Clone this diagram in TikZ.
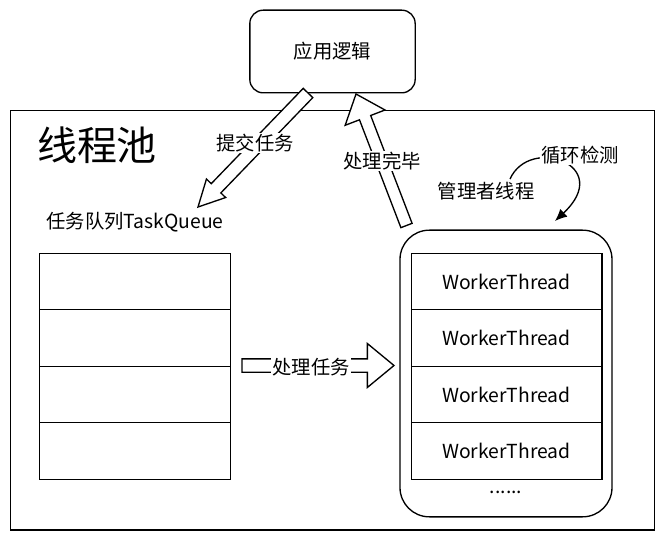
\documentclass[tikz,border=0pt]{standalone}
\usepackage{fontspec}
\setmainfont{Noto Sans CJK SC}
\usetikzlibrary{arrows.meta,positioning,calc}

\tikzset{
  box/.style={draw=black,line width=1pt,minimum width=#1},
  rowbox/.style={draw=black,line width=1pt,minimum width=143pt,minimum height=42.4pt,inner sep=0pt,outer sep=0pt,font=\fontsize{14.5}{16}\selectfont},
  txt/.style={inner sep=1pt,fill=white,font=\fontsize{14.5}{16}\selectfont},
  arrowbody/.style={draw=black,fill=white,line width=1pt,line join=miter},
}

% block arrow: tail, tip, half shaft, half head, head length
\newcommand{\blockarrow}[5]{%
  \coordinate (#2base) at ($(#2)!#5!(#1)$);
  \draw[arrowbody] ($(#1)!#3!90:(#2)$) -- ($(#2base)!#3!90:(#2)$) -- ($(#2base)!#4!90:(#2)$) -- (#2)
    -- ($(#2base)!#4!-90:(#2)$) -- ($(#2base)!#3!-90:(#2)$) -- ($(#1)!#3!-90:(#2)$) -- cycle;
}

\begin{document}
\begin{tikzpicture}[x=0.75pt,y=-0.75pt]
  \useasboundingbox (0,0) rectangle (669,542);

  % outer frame and application box
  \node[box=483pt,minimum height=314.5pt] (pool) at (332.25,320.25) {};
  \node[box=124pt,minimum height=62pt,rounded corners=10pt,font=\fontsize{14.5}{16}\selectfont] (app) at (332.5,51.5) {应用逻辑};
  \node[inner sep=0pt,font=\fontsize{30}{32}\selectfont] (title) at (97,145) {线程池};

  % task queue
  \node[inner sep=0pt,font=\fontsize{14.5}{16}\selectfont] (qlabel) at (135,222) {任务队列TaskQueue};
  \node[rowbox] (q1) at (135,281.5) {};
  \node[rowbox] (q2) at (135,338) {};
  \node[rowbox] (q3) at (135,394.5) {};
  \node[rowbox] (q4) at (135,451) {};

  % worker threads
  \node[box=159pt,minimum height=215pt,rounded corners=22pt] (workers) at (506,373.5) {};
  \node[rowbox] (w1) at (506.5,281.5) {WorkerThread};
  \node[rowbox] (w2) at (506.5,338) {WorkerThread};
  \node[rowbox] (w3) at (506.5,394.5) {WorkerThread};
  \node[rowbox] (w4) at (506.5,451) {WorkerThread};
  \node[inner sep=0pt,font=\fontsize{14.5}{16}\selectfont] (more) at (506,492) {......};

  % block arrows
  \coordinate (submittail) at (308,93);
  \coordinate (submittip) at (198,207);
  \blockarrow{submittail}{submittip}{5pt}{10pt}{19.5pt}
  \node[txt] (submit) at (255,143) {提交任务};

  \coordinate (donetail) at (406.5,225.5);
  \coordinate (donetip) at (356,94);
  \blockarrow{donetail}{donetip}{4.5pt}{16pt}{19pt}
  \node[txt] (done) at (382,161) {处理完毕};

  \coordinate (handletail) at (242,365.5);
  \coordinate (handletip) at (394,365.5);
  \blockarrow{handletail}{handletip}{5pt}{16.5pt}{20pt}
  \node[txt] (handle) at (311,367) {处理任务};

  % manager loop
  \node[inner sep=0pt,font=\fontsize{14.5}{16}\selectfont] (manager) at (486,191) {管理者线程};
  \coordinate (loopstart) at (510,179);
  \coordinate (loopend) at (555,221);
  \draw[line width=1pt,-{Latex[length=9pt,width=8pt]}] (loopstart) .. controls (530,135) and (615,165) .. (loopend);
  \node[txt] (loop) at (580,155) {循环检测};
\end{tikzpicture}
\end{document}
